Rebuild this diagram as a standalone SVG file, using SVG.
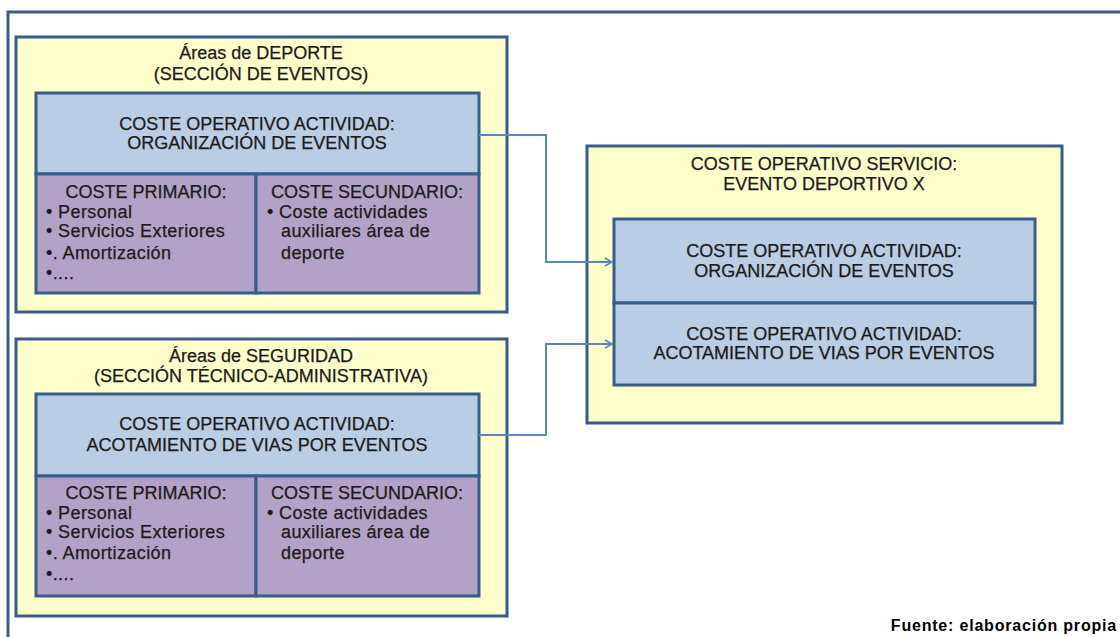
<svg xmlns="http://www.w3.org/2000/svg" width="1120" height="637" viewBox="0 0 1120 637">
<style>
text{font-family:"Liberation Sans",Arial,sans-serif;font-size:18px;fill:#1a1a1a;stroke:#1a1a1a;stroke-width:0.25}
.c{text-anchor:middle}
.b{letter-spacing:0.4px}
.frame{fill:none;stroke:#385D8A;stroke-width:3}
.yel{fill:#FFFFCC;stroke:#385D8A;stroke-width:3}
.blue{fill:#B9CDE5;stroke:#385D8A;stroke-width:3}
.pur{fill:#B3A2C7;stroke:#385D8A;stroke-width:3}
.conn{fill:none;stroke:#5A86C0;stroke-width:2}
.src{font-size:16px;font-weight:bold;text-anchor:end;fill:#000;stroke:none;letter-spacing:0.8px}
</style>
<defs>
<marker id="arr" markerWidth="10" markerHeight="10" refX="8" refY="5" orient="auto" markerUnits="userSpaceOnUse">
<path d="M1,1 L8,5 L1,9" fill="none" stroke="#5A86C0" stroke-width="1.5"/>
</marker>
</defs>
<rect width="1120" height="637" fill="#fff"/>
<path class="frame" d="M8,637 L8,12 L1120,12"/>

<g id="deporte">
<rect class="yel" x="16" y="37" width="491" height="275"/>
<text class="c" x="261" y="59">Áreas de DEPORTE</text>
<text class="c" x="261" y="80">(SECCIÓN DE EVENTOS)</text>
<rect class="blue" x="36" y="93" width="443" height="81"/>
<text class="c" x="257" y="130">COSTE OPERATIVO ACTIVIDAD:</text>
<text class="c" x="257" y="149">ORGANIZACIÓN DE EVENTOS</text>
<rect class="pur" x="36" y="174" width="220" height="119"/>
<rect class="pur" x="256" y="174" width="223" height="119"/>
<text class="c" x="146" y="198">COSTE PRIMARIO:</text>
<text class="b" x="46" y="218">• Personal</text>
<text class="b" x="46" y="237">• Servicios Exteriores</text>
<text class="b" x="46" y="259">•. Amortización</text>
<text class="b" x="46" y="279">•....</text>
<text class="c" x="367" y="198">COSTE SECUNDARIO:</text>
<text class="b" x="267" y="218">• Coste actividades</text>
<text class="b" x="281" y="237">auxiliares área de</text>
<text class="b" x="281" y="259">deporte</text>
</g>

<g id="seguridad">
<rect class="yel" x="16" y="339" width="491" height="277"/>
<text class="c" x="261" y="362">Áreas de SEGURIDAD</text>
<text class="c" x="261" y="382">(SECCIÓN TÉCNICO-ADMINISTRATIVA)</text>
<rect class="blue" x="36" y="394" width="443" height="82"/>
<text class="c" x="257" y="430">COSTE OPERATIVO ACTIVIDAD:</text>
<text class="c" x="257" y="451">ACOTAMIENTO DE VIAS POR EVENTOS</text>
<rect class="pur" x="36" y="476" width="220" height="120"/>
<rect class="pur" x="256" y="476" width="223" height="120"/>
<text class="c" x="146" y="499">COSTE PRIMARIO:</text>
<text class="b" x="46" y="519">• Personal</text>
<text class="b" x="46" y="538">• Servicios Exteriores</text>
<text class="b" x="46" y="559">•. Amortización</text>
<text class="b" x="46" y="580">•....</text>
<text class="c" x="367" y="499">COSTE SECUNDARIO:</text>
<text class="b" x="267" y="519">• Coste actividades</text>
<text class="b" x="281" y="538">auxiliares área de</text>
<text class="b" x="281" y="559">deporte</text>
</g>

<g id="servicio">
<rect class="yel" x="587" y="146" width="475" height="277"/>
<text class="c" x="824" y="170">COSTE OPERATIVO SERVICIO:</text>
<text class="c" x="824" y="190">EVENTO DEPORTIVO X</text>
<rect class="blue" x="614" y="219" width="421" height="84"/>
<text class="c" x="824" y="257">COSTE OPERATIVO ACTIVIDAD:</text>
<text class="c" x="824" y="277">ORGANIZACIÓN DE EVENTOS</text>
<rect class="blue" x="614" y="303" width="421" height="82"/>
<text class="c" x="824" y="340">COSTE OPERATIVO ACTIVIDAD:</text>
<text class="c" x="824" y="359">ACOTAMIENTO DE VIAS POR EVENTOS</text>
</g>

<g id="connectors">
<path class="conn" d="M479,135 L546,135 L546,262 L612,262" marker-end="url(#arr)"/>
<path class="conn" d="M479,435 L546,435 L546,344 L612,344" marker-end="url(#arr)"/>
</g>

<text class="src" x="1117" y="631">Fuente: elaboración propia</text>
</svg>
